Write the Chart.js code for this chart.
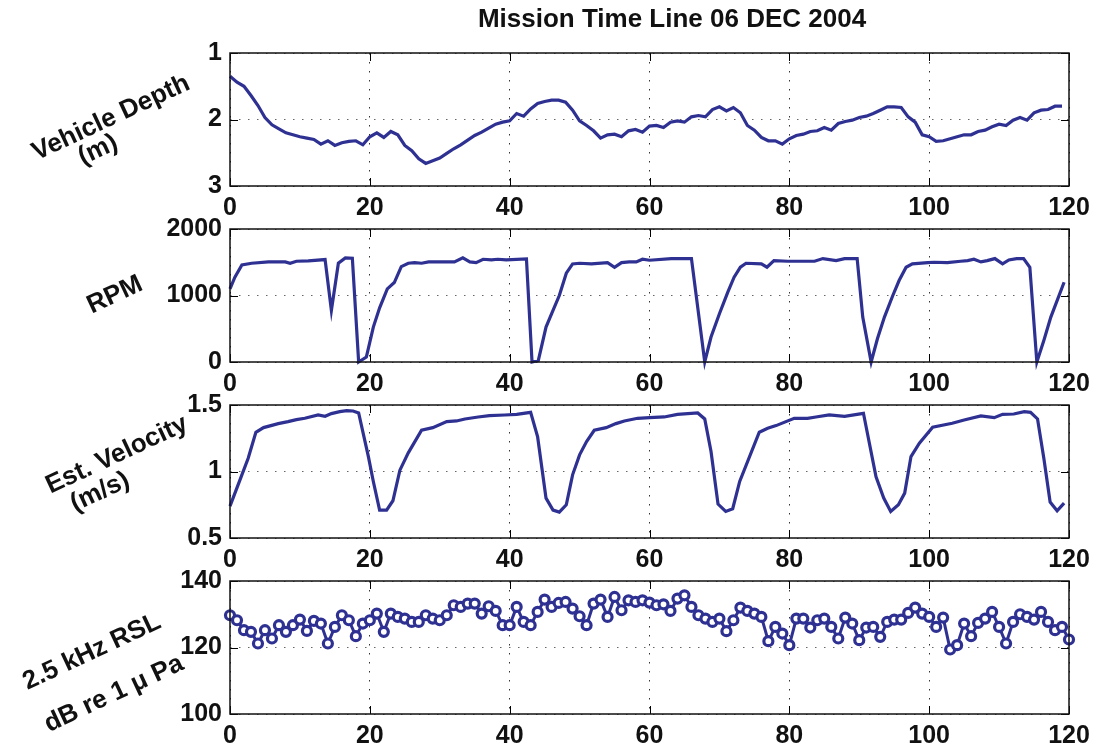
<!DOCTYPE html>
<html>
<head>
<meta charset="utf-8">
<script src="https://cdn.jsdelivr.net/npm/chart.js@4.4.0/dist/chart.umd.min.js"></script>
<style>
  body { margin: 0; background: #fff; }
  #wrap { position: relative; width: 1097px; height: 750px; overflow: hidden; }
  canvas { position: absolute; left: 0; }
</style>
</head>
<body>
<div id="wrap">
  <canvas id="depthChart"></canvas>
  <canvas id="rpmChart"></canvas>
  <canvas id="velocityChart"></canvas>
  <canvas id="rslChart"></canvas>
</div>
<script>
const chartTitle = "Mission Time Line 06 DEC 2004";
const timeTicks = [0, 20, 40, 60, 80, 100, 120];

// vehicle depth (m), one sample per time unit starting at 0
const depth = [
  1.35, 1.44, 1.50, 1.64, 1.79, 1.97, 2.08, 2.14, 2.20, 2.23,
  2.26, 2.28, 2.30, 2.37, 2.32, 2.39, 2.35, 2.33, 2.32, 2.38,
  2.26, 2.20, 2.27, 2.18, 2.23, 2.39, 2.47, 2.59, 2.66, 2.62,
  2.58, 2.51, 2.44, 2.38, 2.31, 2.24, 2.19, 2.13, 2.07, 2.04,
  2.02, 1.91, 1.95, 1.84, 1.76, 1.73, 1.71, 1.71, 1.74, 1.86,
  2.02, 2.09, 2.17, 2.28, 2.23, 2.22, 2.26, 2.17, 2.15, 2.19,
  2.10, 2.09, 2.12, 2.04, 2.02, 2.04, 1.96, 1.94, 1.96, 1.85,
  1.81, 1.87, 1.82, 1.90, 2.09, 2.16, 2.27, 2.32, 2.32, 2.37,
  2.29, 2.24, 2.22, 2.18, 2.17, 2.12, 2.16, 2.06, 2.03, 2.01,
  1.97, 1.95, 1.91, 1.86, 1.81, 1.81, 1.82, 1.96, 2.04, 2.23,
  2.26, 2.33, 2.32, 2.29, 2.26, 2.23, 2.23, 2.18, 2.16, 2.11,
  2.07, 2.09, 2.01, 1.97, 2.01, 1.90, 1.86, 1.85, 1.80, 1.80
];
const depthTicks = [1, 2, 3];

const rpmTime = [
  0, 0.7, 1.7, 3.1, 5.5, 7.9, 8.6, 9.5, 11.2, 13.6,
  14.5, 15.5, 16.5, 17.5, 18.4, 19.5, 20.5, 21.4, 22.5, 23.5,
  24.5, 25.5, 26.4, 27.4, 28.4, 32.1, 33.3, 34.3, 35.2, 36.2,
  37.4, 38.3, 39.5, 42.4, 43.2, 44.1, 45.2, 46.2, 47.1, 48.1,
  49.0, 50.0, 51.7, 54.0, 55.0, 56.0, 57.1, 58.1, 59.0, 60.0,
  63.1, 66.0, 67.9, 68.8, 70.0, 71.2, 72.1, 73.0, 73.8, 76.0,
  76.8, 77.8, 79.8, 83.6, 84.8, 86.7, 87.9, 89.7, 90.5, 91.7,
  92.6, 93.6, 94.8, 95.7, 96.7, 97.6, 99.8, 100.7, 102.6, 104.5,
  105.5, 106.4, 107.4, 108.3, 109.4, 110.5, 111.4, 112.5, 113.5, 114.4,
  115.4, 116.4, 117.4, 119.3
];
const rpm = [
  1100, 1275, 1460, 1485, 1505, 1505, 1485, 1515, 1520, 1540,
  775, 1485, 1565, 1560, 0, 75, 525, 815, 1100, 1195,
  1435, 1485, 1495, 1485, 1505, 1505, 1565, 1505, 1495, 1545,
  1535, 1545, 1535, 1550, 0, 25, 525, 775, 1000, 1335,
  1475, 1485, 1475, 1495, 1425, 1495, 1505, 1505, 1545, 1530,
  1555, 1555, 0, 375, 725, 1050, 1275, 1425, 1485, 1475,
  1425, 1525, 1515, 1515, 1555, 1525, 1555, 1555, 675, 0,
  350, 675, 1000, 1225, 1425, 1475, 1495, 1500, 1495, 1515,
  1525, 1545, 1505, 1525, 1555, 1475, 1535, 1555, 1555, 1425,
  0, 325, 675, 1200
];
const rpmTicks = [0, 1000, 2000];

const velocityTime = [
  0, 1.7, 2.6, 3.7, 4.8, 6.9, 8.3, 9.5, 10.7, 12.6,
  13.6, 14.5, 15.7, 16.7, 17.6, 18.4, 19.8, 20.5, 21.4, 22.4,
  23.3, 24.3, 25.5, 27.4, 29.0, 31.0, 32.4, 33.6, 35.5, 37.1,
  39.3, 41.0, 43.0, 44.0, 45.2, 46.2, 47.1, 48.1, 49.0, 50.0,
  51.0, 52.1, 53.8, 55.2, 56.4, 58.3, 60.0, 62.1, 64.0, 66.9,
  67.9, 68.8, 69.8, 70.9, 71.9, 72.9, 75.7, 76.9, 78.1, 80.7,
  82.6, 83.8, 85.7, 87.9, 90.6, 92.4, 93.5, 94.5, 95.6, 96.5,
  97.4, 98.6, 100.5, 103.3, 105.0, 107.4, 109.3, 110.5, 112.1, 113.6,
  114.5, 115.5, 116.4, 117.3, 118.3, 119.3
];
const velocity = [
  0.74, 0.975, 1.10, 1.295, 1.33, 1.36, 1.375, 1.39, 1.40, 1.425,
  1.415, 1.435, 1.45, 1.458, 1.455, 1.44, 1.11, 0.925, 0.71, 0.71,
  0.78, 1.01, 1.14, 1.31, 1.33, 1.375, 1.38, 1.395, 1.41, 1.42,
  1.425, 1.43, 1.445, 1.26, 0.80, 0.71, 0.695, 0.75, 0.975, 1.125,
  1.225, 1.31, 1.33, 1.36, 1.38, 1.40, 1.405, 1.41, 1.43, 1.44,
  1.395, 1.15, 0.755, 0.70, 0.72, 0.925, 1.295, 1.325, 1.345, 1.40,
  1.40, 1.41, 1.425, 1.415, 1.4375, 0.96, 0.80, 0.70, 0.75, 0.8375,
  1.1125, 1.2125, 1.3325, 1.3625, 1.3875, 1.4175, 1.405, 1.43, 1.4325, 1.45,
  1.445, 1.395, 1.10, 0.77, 0.705, 0.7625
];
const velocityTicks = [0.5, 1, 1.5];

// 2.5 kHz received level, one marker per time unit from 0 to 120
const rsl = [
  129.7, 128.2, 125.2, 124.7, 121.2, 125.2, 122.7, 126.7, 124.7, 126.7,
  128.4, 125.0, 128.0, 127.2, 121.2, 126.2, 129.7, 128.2, 123.4, 127.2,
  128.2, 130.2, 124.7, 130.2, 129.2, 128.7, 127.7, 127.7, 129.7, 128.7,
  128.2, 129.7, 132.7, 132.2, 133.2, 133.2, 130.2, 132.4, 131.0, 126.7,
  126.7, 132.2, 127.7, 126.7, 130.7, 134.4, 132.2, 133.4, 133.7, 131.7,
  129.4, 126.7, 133.2, 134.4, 129.2, 135.2, 131.2, 134.2, 133.7, 134.2,
  133.5, 132.7, 133.0, 131.0, 134.7, 135.7, 132.2, 129.7, 128.7, 127.7,
  128.7, 124.9, 128.2, 132.0, 131.0, 130.2, 129.2, 121.9, 126.2, 124.2,
  120.7, 128.7, 128.7, 126.0, 128.2, 128.7, 126.2, 122.7, 129.0, 127.2,
  122.2, 126.0, 126.2, 123.2, 127.7, 128.4, 128.4, 130.4, 132.0, 130.2,
  129.2, 126.2, 129.0, 119.4, 120.7, 127.2, 123.4, 127.4, 128.7, 130.7,
  126.2, 121.2, 127.7, 130.0, 129.2, 128.4, 130.7, 127.7, 125.2, 126.2,
  122.4
];
const rslTicks = [100, 120, 140];

const blue = "#2e3192";
const fontFamily = "'Liberation Sans', Arial, Helvetica, sans-serif";
const tickFont = { family: fontFamily, size: 25, weight: "bold" };

// plot area of each panel (page pixels)
const panelTops = [53, 229, 405, 581];
const padTop = 30;

// MATLAB look: full box, ticks pointing inward, tilted y labels
const matlabAxes = {
  id: "matlabAxes",
  afterDraw(chart, args, opts) {
    const { ctx, chartArea: a, scales } = chart;
    ctx.save();
    ctx.strokeStyle = "#000";
    ctx.lineWidth = 1;
    ctx.beginPath();
    scales.x.ticks.forEach((t) => {
      const px = Math.round(scales.x.getPixelForValue(t.value)) + 0.5;
      ctx.moveTo(px, a.bottom);
      ctx.lineTo(px, a.bottom - 8);
      ctx.moveTo(px, a.top);
      ctx.lineTo(px, a.top + 8);
    });
    scales.y.ticks.forEach((t) => {
      const py = Math.round(scales.y.getPixelForValue(t.value)) + 0.5;
      ctx.moveTo(a.left, py);
      ctx.lineTo(a.left + 8, py);
      ctx.moveTo(a.right, py);
      ctx.lineTo(a.right - 8, py);
    });
    ctx.stroke();
    ctx.lineWidth = 1.5;
    ctx.strokeStyle = "#111";
    ctx.strokeRect(a.left, a.top, a.right - a.left, a.bottom - a.top);

    ctx.fillStyle = "#111";
    ctx.font = `bold 26px ${fontFamily}`;
    ctx.textAlign = "center";
    ctx.textBaseline = "middle";
    opts.lines.forEach((l) => {
      ctx.save();
      ctx.translate(l.x, l.y - opts.offset);
      ctx.rotate((-25 * Math.PI) / 180);
      ctx.fillText(l.text, 0, 0);
      ctx.restore();
    });

    if (opts.title) {
      ctx.font = `bold 26px ${fontFamily}`;
      ctx.textBaseline = "alphabetic";
      ctx.fillText(opts.title, 672, 27 - opts.offset);
    }
    ctx.restore();
  },
};

function makePanel(id, index, dataset, yTicks, reverse, lines, title) {
  const canvas = document.getElementById(id);
  const top = index === 0 ? panelTops[0] : padTop;
  const offset = panelTops[index] - top;
  canvas.width = 1097;
  canvas.height = top + 133 + 40;
  canvas.style.top = offset + "px";

  return new Chart(canvas, {
    type: "line",
    data: { datasets: [dataset] },
    options: {
      responsive: false,
      animation: false,
      events: [],
      layout: { padding: { top: top, right: 28, left: 0, bottom: 0 } },
      plugins: {
        legend: { display: false },
        tooltip: { enabled: false },
        matlabAxes: { lines: lines, offset: offset, title: title },
      },
      scales: {
        x: {
          type: "linear",
          min: 0,
          max: 120,
          afterBuildTicks: (s) => {
            s.ticks = timeTicks.map((v) => ({ value: v }));
          },
          afterFit: (s) => {
            s.height = 40;
          },
          grid: { color: "#333", lineWidth: 1, drawTicks: false },
          border: { display: false, dash: [1.5, 7.5] },
          ticks: { font: tickFont, color: "#111", padding: 7, maxRotation: 0, autoSkip: false },
        },
        y: {
          type: "linear",
          min: yTicks[0],
          max: yTicks[yTicks.length - 1],
          reverse: reverse,
          afterBuildTicks: (s) => {
            s.ticks = yTicks.map((v) => ({ value: v }));
          },
          afterFit: (s) => {
            s.width = 230;
          },
          grid: { color: "#666", lineWidth: 1, drawTicks: false },
          border: { display: false, dash: [1.5, 7.5] },
          ticks: { font: tickFont, color: "#111", padding: 8, callback: (v) => String(v) },
        },
      },
    },
    plugins: [matlabAxes],
  });
}

const lineStyle = {
  borderColor: blue,
  borderWidth: 3.2,
  pointRadius: 0,
  tension: 0,
  fill: false,
  clip: false,
};

makePanel(
  "depthChart",
  0,
  { ...lineStyle, data: depth.map((v, i) => ({ x: i, y: v })) },
  depthTicks,
  true,
  [
    { text: "Vehicle Depth", x: 111, y: 118 },
    { text: "(m)", x: 98, y: 150 },
  ],
  chartTitle
);

makePanel(
  "rpmChart",
  1,
  { ...lineStyle, data: rpmTime.map((t, i) => ({ x: t, y: rpm[i] })) },
  rpmTicks,
  false,
  [{ text: "RPM", x: 115, y: 295 }]
);

makePanel(
  "velocityChart",
  2,
  { ...lineStyle, data: velocityTime.map((t, i) => ({ x: t, y: velocity[i] })) },
  velocityTicks,
  false,
  [
    { text: "Est. Velocity", x: 117, y: 455 },
    { text: "(m/s)", x: 100, y: 492 },
  ]
);

makePanel(
  "rslChart",
  3,
  {
    ...lineStyle,
    borderWidth: 3,
    pointRadius: 4.5,
    pointBorderWidth: 3.2,
    pointBorderColor: blue,
    pointBackgroundColor: "#fff",
    data: rsl.map((v, i) => ({ x: i, y: v })),
  },
  rslTicks,
  false,
  [
    { text: "2.5 kHz RSL", x: 92, y: 652 },
    { text: "dB re 1 \u03bc Pa", x: 114, y: 694 },
  ]
);
</script>
</body>
</html>
